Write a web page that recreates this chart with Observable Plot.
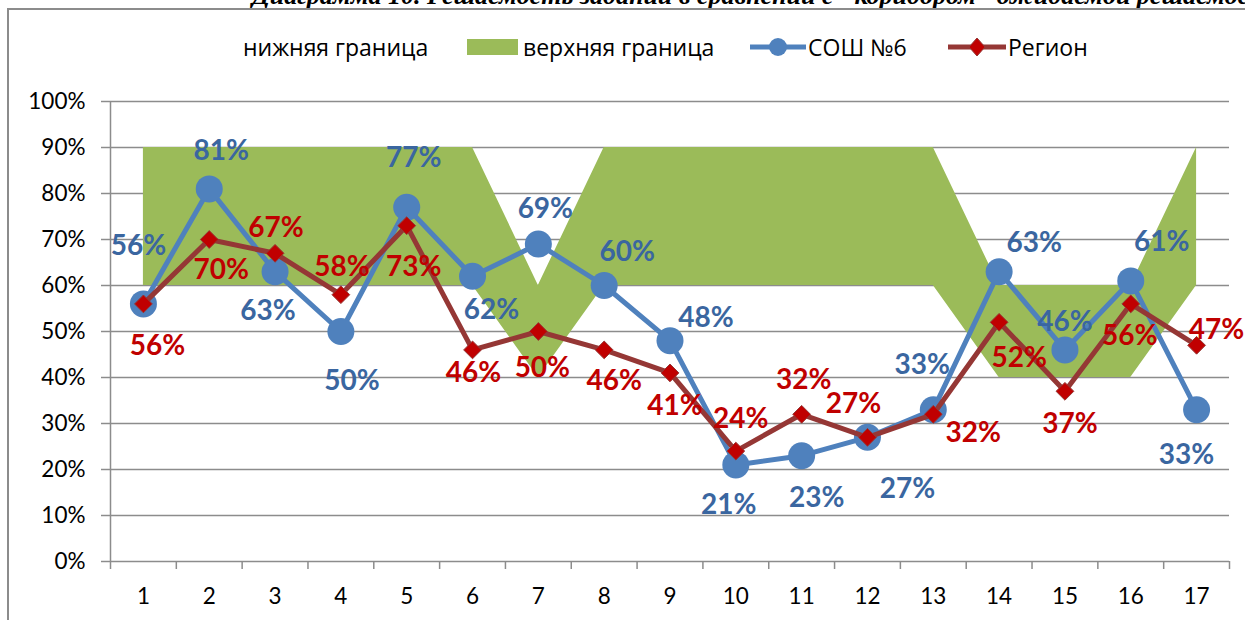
<!DOCTYPE html>
<html><head><meta charset="utf-8">
<script src="https://cdn.jsdelivr.net/npm/d3@7"></script>
<script src="https://cdn.jsdelivr.net/npm/@observablehq/plot@0.6"></script>
<style>
body{margin:0;background:#fff;overflow:hidden;width:1245px;height:620px;position:relative;font-family:Lato,'Open Sans',sans-serif}
#title{position:absolute;left:252px;top:-19px;font:italic bold 26px 'Liberation Serif',serif;white-space:nowrap;color:#000}
#frame{position:absolute;left:7px;top:8px;width:1300px;height:700px;border-left:2px solid #8c8c8c;border-top:2px solid #8c8c8c}
#legend{position:absolute;top:0;left:0}
#chart{position:absolute;top:80px;left:0}
</style></head>
<body>
<div id="title">Диаграмма 10. Решаемость заданий в сравнении с "коридором" ожидаемой решаемости</div>
<div id="frame"></div>
<svg id="legend" width="1245" height="80" font-family="'Open Sans',sans-serif" font-size="23">
  <text x="243" y="47" dominant-baseline="central">нижняя граница</text>
  <rect x="467" y="39" width="51" height="16" fill="#9BBB59"></rect>
  <text x="523" y="47" dominant-baseline="central">верхняя граница</text>
  <line x1="750" x2="806" y1="47" y2="47" stroke="#4F81BD" stroke-width="5"></line>
  <circle cx="778" cy="47" r="9" fill="#4F81BD"></circle>
  <text x="808" y="47" dominant-baseline="central">СОШ №6</text>
  <line x1="948" x2="1006" y1="47" y2="47" stroke="#953735" stroke-width="5"></line>
  <path d="M977,38 L985,47 L977,56 L969,47 Z" fill="#C00000" stroke="#953735"></path>
  <text x="1008" y="47" dominant-baseline="central">Регион</text>
</svg>
<div id="chart"></div>
<script>
const tasks = [1,2,3,4,5,6,7,8,9,10,11,12,13,14,15,16,17];
const lowerBound = [60,60,60,60,60,60,40,60,60,60,60,60,60,40,40,40,60];
const upperBound = [90,90,90,90,90,90,60,90,90,90,90,90,90,60,60,60,90];
const school = [56,81,63,50,77,62,69,60,48,21,23,27,33,63,46,61,33];
const region = [56,70,67,58,73,46,50,46,41,24,32,27,32,52,37,56,47];
const yTicks = [0,0.1,0.2,0.3,0.4,0.5,0.6,0.7,0.8,0.9,1];
const xBoundaries = [0.5,1.5,2.5,3.5,4.5,5.5,6.5,7.5,8.5,9.5,10.5,11.5,12.5,13.5,14.5,15.5,16.5,17.5];

// label placement offsets (px) relative to each point
const schoolDx = [-5,12,-7,11,7,19,7,23,36,-7,15,40,-11,35,0,31,-10];
const schoolDy = [-58,-38,39,50,-49,34,-35,-33,-23,40,42,52,-45,-29,-28,-39,45];
const regionDx = [14,12,1,1,7,1,4,10,5,5,2,-14,40,20,5,-1,20];
const regionDy = [42,31,-25,-28,41,23,37,31,33,-32,-34,-33,19,36,33,32,-15];

const rows = tasks.map((t,i)=>({task:t, lo:lowerBound[i]/100, hi:upperBound[i]/100, s:school[i]/100, r:region[i]/100}));
const fmt = d3.format(".0%");
const grey = "#8c8c8c";

const schoolLabels = rows.map((d,i)=>Plot.text([d],{x:"task",y:"s",text:d=>fmt(d.s),dx:schoolDx[i],dy:schoolDy[i],fill:"#3A66A0",fontSize:28,fontWeight:"bold"}));
const regionLabels = rows.map((d,i)=>Plot.text([d],{x:"task",y:"r",text:d=>fmt(d.r),dx:regionDx[i],dy:regionDy[i],fill:"#C00000",fontSize:28,fontWeight:"bold"}));

const chart = Plot.plot({
  width:1245, height:540,
  marginTop:21, marginBottom:59, marginLeft:110, marginRight:16,
  style:{fontFamily:"Lato, 'Open Sans', sans-serif", fontSize:"22px", color:"#000", background:"transparent"},
  x:{domain:[0.5,17.5]},
  y:{domain:[0,1]},
  marks:[
    Plot.ruleY(yTicks,{stroke:grey,strokeWidth:1.5}),
    Plot.areaY(rows,{x:"task",y1:"lo",y2:"hi",fill:"#9BBB59"}),
    Plot.ruleX([0.5],{stroke:grey,strokeWidth:1.5}),
    Plot.axisY(yTicks,{tickFormat:fmt,tickSize:9,tickPadding:16,stroke:grey,strokeWidth:1.5,fill:"#000",fontSize:22.5,label:null}),
    Plot.axisX(xBoundaries,{tickSize:8,tickFormat:()=>"",stroke:grey,strokeWidth:1.5,label:null}),
    Plot.axisX(tasks,{tickSize:0,tickPadding:27,fill:"#000",fontSize:22.5,label:null}),
    Plot.line(rows,{x:"task",y:"s",stroke:"#4F81BD",strokeWidth:5}),
    Plot.dot(rows,{x:"task",y:"s",r:13.5,fill:"#4F81BD"}),
    Plot.line(rows,{x:"task",y:"r",stroke:"#953735",strokeWidth:5}),
    Plot.dot(rows,{x:"task",y:"r",symbol:"diamond2",r:8,fill:"#C00000",stroke:"#953735",strokeWidth:1}),
    ...schoolLabels,
    ...regionLabels
  ]
});
document.getElementById("chart").appendChild(chart);
</script>
</body></html>
